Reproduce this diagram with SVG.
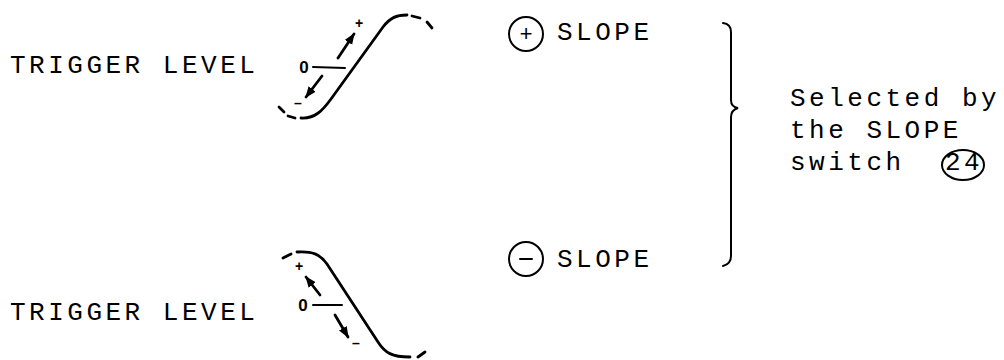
<svg xmlns="http://www.w3.org/2000/svg" width="1004" height="360" viewBox="0 0 1004 360">
<defs>
<style>
.t{font-family:"Liberation Mono","Courier New",monospace;font-size:26px;letter-spacing:3.5px;fill:#000}
.s{fill:none;stroke:#000;stroke-width:2.8;stroke-linecap:round}
.th{fill:none;stroke:#000;stroke-width:2;stroke-linecap:round}
.lbl{font-family:"Liberation Sans",Arial,sans-serif;font-weight:bold;fill:#000;text-anchor:middle}
</style>
<marker id="ah" viewBox="0 0 10 10" refX="9" refY="5" markerWidth="4" markerHeight="4" orient="auto" markerUnits="strokeWidth">
<path d="M0 1 L10 5 L0 9 Z" fill="#000"/>
</marker>
</defs>
<rect width="1004" height="360" fill="#fff"/>

<g id="label-top">
<text class="t" x="10" y="73">TRIGGER LEVEL</text>
</g>
<g id="label-bottom">
<text class="t" x="10" y="320">TRIGGER LEVEL</text>
</g>

<g id="curve-positive">
<path class="s" d="M301 118 C315 119 323 110 331 99 L383 27 C390 18 396 15 407 15"/>
<path class="s" d="M412 16 L420 18 M427 22 L432 28 M295 118 L288 116 M284 112 L279 107"/>
<path class="th" d="M313 67 L345 68"/>
<path class="s" d="M338 58 L354 34" marker-end="url(#ah)"/>
<path class="s" d="M322 76 L306 97" marker-end="url(#ah)"/>
<text class="lbl" x="304" y="73" font-size="17">0</text>
<text class="lbl" x="359" y="28" font-size="14">+</text>
<text class="lbl" x="298" y="108" font-size="14">–</text>
</g>

<g id="curve-negative">
<path class="s" d="M297 252 C312 251 320 254 327 264 L378 342 C385 353 392 357 410 357"/>
<path class="s" d="M283 258 L291 254 M418 357 L425 352"/>
<path class="th" d="M313 305 L342 305"/>
<path class="s" d="M320 295 L306 277" marker-end="url(#ah)"/>
<path class="s" d="M335 315 L348 337" marker-end="url(#ah)"/>
<text class="lbl" x="303" y="311" font-size="17">0</text>
<text class="lbl" x="299" y="271" font-size="14">+</text>
<text class="lbl" x="356" y="348" font-size="14">–</text>
</g>

<g id="pos-slope">
<circle class="th" cx="526" cy="34" r="17"/>
<text x="526" y="41" font-family="Liberation Mono, monospace" font-size="22" text-anchor="middle" fill="#000">+</text>
<text class="t" x="557" y="40">SLOPE</text>
</g>

<g id="neg-slope">
<circle class="th" cx="526" cy="259" r="17"/>
<path class="th" d="M520 259 L532 259"/>
<text class="t" x="557" y="267">SLOPE</text>
</g>

<g id="bracket">
<path class="th" stroke-width="2.5" d="M723 23 Q731 24 731 32 L731 100 Q731 107 738 108 Q731 110 731 117 L731 256 Q731 264 723 266"/>
</g>

<g id="note">
<text class="t" x="790" y="106">Selected by</text>
<text class="t" x="790" y="138">the SLOPE</text>
<text class="t" x="790" y="170">switch</text>
<text class="t" x="945" y="170" letter-spacing="1">24</text>
<ellipse class="th" cx="963" cy="165" rx="21" ry="15"/>
</g>
</svg>
